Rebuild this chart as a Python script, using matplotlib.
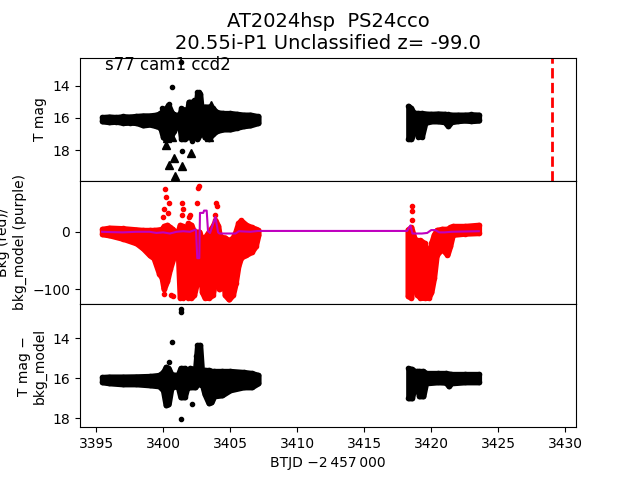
import numpy as np
import matplotlib
matplotlib.use('Agg')
import matplotlib.pyplot as plt

# ---- T mag: dense point cloud, given as upper / lower edge per time node ----
tmag_t1 = [3395.45, 3396.0, 3396.5, 3397.0, 3397.5, 3398.0, 3398.5, 3399.0, 3399.5, 3399.8,
           3400.0, 3400.2, 3400.4, 3400.6, 3400.8, 3401.0, 3401.2, 3401.35, 3401.6, 3401.75,
           3401.9, 3402.2, 3402.4, 3402.55, 3402.75, 3402.9, 3403.1, 3403.4, 3403.7, 3404.0,
           3404.5, 3405.0, 3405.5, 3406.0, 3406.5, 3407.1]
tmag_hi1 = [15.95, 15.92, 15.95, 15.90, 15.92, 15.88, 15.85, 15.85, 15.80, 15.70,
            15.50, 15.40, 15.20, 15.60, 15.80, 15.80, 15.90, 15.40, 15.50, 15.90,
            15.00, 15.00, 15.60, 14.40, 14.50, 15.80, 15.30, 15.30, 15.40, 15.65,
            15.70, 15.70, 15.75, 15.80, 15.80, 15.90]
tmag_lo1 = [16.20, 16.25, 16.22, 16.30, 16.28, 16.30, 16.45, 16.40, 16.50, 16.60,
            17.20, 17.30, 17.10, 17.10, 16.80, 16.40, 16.30, 17.30, 17.30, 16.40,
            17.20, 17.20, 16.40, 17.30, 17.00, 16.50, 17.20, 17.30, 17.00, 16.80,
            16.70, 16.70, 16.60, 16.50, 16.45, 16.30]
tmag_t2 = [3418.3, 3418.5, 3418.7, 3418.85, 3419.05, 3419.3, 3419.55, 3420.0, 3420.5, 3421.0,
           3421.25, 3421.5, 3422.0, 3422.5, 3423.0, 3423.55]
tmag_hi2 = [15.25, 15.40, 15.70, 15.70, 15.70, 15.70, 15.73, 15.75, 15.73, 15.75,
            15.78, 15.80, 15.80, 15.80, 15.78, 15.80]
tmag_lo2 = [17.30, 17.30, 16.90, 16.45, 17.15, 17.15, 16.30, 16.20, 16.20, 16.25,
            16.50, 16.25, 16.18, 16.15, 16.18, 16.15]

# isolated points
out_t = [3401.32, 3400.69, 3400.45, 3402.69, 3402.31, 3401.42, 3402.16, 3399.95]
out_mag = [12.55, 14.10, 15.15, 14.40, 14.90, 18.05, 17.40, 15.40]
lim_t = [3400.45, 3400.82, 3401.44, 3400.87, 3402.07, 3400.20, 3400.32, 3400.70,
         3403.56, 3403.43, 3403.18, 3403.80]
lim_mag = [18.90, 18.50, 18.95, 19.60, 18.20, 17.65, 17.25, 17.15,
           15.20, 17.15, 16.70, 15.55]

# ---- background flux (red) and background model (purple) ----
bkg_t1 = [3395.45, 3396.0, 3397.0, 3398.0, 3398.5, 3399.0, 3399.3, 3399.7, 3399.9, 3400.05,
          3400.3, 3400.5, 3400.7, 3400.9, 3401.1, 3401.25, 3401.45, 3401.65, 3401.85, 3402.1,
          3402.3, 3402.5, 3402.7, 3402.9, 3403.1, 3403.4, 3403.7, 3403.9, 3404.1, 3404.2,
          3404.4, 3404.6, 3404.9, 3405.2, 3405.4, 3405.6, 3405.8, 3406.2, 3406.6, 3406.9,
          3407.1]
bkg_hi1 = [5, 7, 6, 4, 3, 3, 3, 4, 5, 10,
           12, 8, 5, 0, 0, 12, 10, 0, 15, 12,
           0, 0, 0, -15, -10, 0, 10, 20, 10, -5,
           -10, -10, -15, -10, 0, 15, 20, 12, 8, 5,
           3]
bkg_lo1 = [-4, -6, -12, -20, -29, -41, -46, -73, -80, -100,
           -85, -65, -50, -30, -30, -115, -115, -60, -115, -115,
           -110, -90, -40, -105, -115, -115, -110, -80, -40, -100,
           -40, -110, -118, -110, -90, -60, -45, -40, -35, -25,
           -5]
bkg_t2 = [3418.25, 3418.5, 3418.75, 3418.95, 3419.2, 3419.5, 3419.8, 3420.0, 3420.2, 3420.4,
          3420.8, 3421.2, 3421.4, 3421.6, 3422.5, 3423.55]
bkg_hi2 = [4, 8, -12, -15, -15, -20, -50, -20, -5, 3,
           5, 5, 8, 10, 10, 12]
bkg_lo2 = [-112, -115, -50, -110, -115, -115, -115, -105, -80, -40,
           -30, -40, -25, -5, -3, -2]
bkg_out_t = [3400.0, 3400.05, 3400.15, 3400.2, 3400.45, 3400.35, 3400.1, 3400.6, 3400.75,
             3401.4, 3401.42, 3401.45, 3401.9, 3402.0, 3402.65, 3402.62, 3402.55,
             3403.9, 3403.98, 3404.02, 3418.6, 3418.6, 3418.6]
bkg_out = [25, 40, 75, 60, 50, 33, -108, -110, -112,
           30, 50, 40, 25, 30, 80, 76, 50,
           30, 51, 45, 45, 36, 20]

model_t = [3395.45, 3396.0, 3397.0, 3398.0, 3399.0, 3399.5, 3400.0, 3400.5, 3401.0, 3401.5,
           3402.0, 3402.45, 3402.55, 3402.7, 3402.75, 3403.0, 3403.05, 3403.25, 3403.35, 3403.5,
           3403.9, 3404.1, 3404.2, 3405.4, 3405.65, 3406.5, 3407.1, 3418.2, 3418.45, 3418.6,
           3419.3, 3419.7, 3420.0, 3420.3, 3420.6, 3421.0, 3421.5, 3423.55]
model = [0, -0.5, -1, 0, 0, -2, -1, -3, 0, 1,
         0, 4, -46, -46, 33, 33, 37, 37, 1, -2,
         26, -1, -3, -3, 1, 0, 1.5, 1.5, 11, -3,
         -3, -2, 3, 3, -1, -1, 0, 1]

# ---- T mag - bkg_model ----
sub_t1 = [3395.45, 3396.0, 3397.0, 3398.0, 3399.0, 3399.7, 3400.0, 3400.2, 3400.4, 3400.6,
          3400.9, 3401.1, 3401.3, 3401.6, 3401.8, 3402.0, 3402.4, 3402.55, 3402.75, 3402.9,
          3403.1, 3403.4, 3403.6, 3403.8, 3404.4, 3405.0, 3406.0, 3406.6, 3407.1]
sub_hi1 = [15.95, 15.93, 15.93, 15.92, 15.90, 15.85, 15.70, 15.45, 15.50, 15.80,
           15.85, 15.85, 15.50, 15.50, 15.85, 15.50, 15.55, 14.35, 14.35, 15.80,
           15.60, 15.60, 15.65, 15.65, 15.65, 15.65, 15.70, 15.75, 15.85]
sub_lo1 = [16.20, 16.25, 16.30, 16.30, 16.35, 16.40, 16.60, 17.35, 17.30, 16.50,
           16.40, 16.40, 16.95, 16.95, 16.45, 16.45, 16.45, 16.30, 16.30, 16.30,
           16.80, 17.25, 17.20, 16.90, 16.85, 16.60, 16.45, 16.45, 16.25]
sub_t2 = [3418.3, 3418.55, 3418.75, 3418.95, 3419.1, 3419.4, 3419.6, 3420.5, 3421.1, 3421.3,
          3421.5, 3422.5, 3423.55]
sub_hi2 = [15.50, 15.55, 15.65, 15.65, 15.65, 15.65, 15.75, 15.75, 15.75, 15.78,
           15.80, 15.80, 15.80]
sub_lo2 = [17.00, 17.00, 16.45, 16.45, 16.90, 16.90, 16.25, 16.20, 16.22, 16.40,
           16.25, 16.20, 16.20]
sub_out_t = [3401.35, 3401.35, 3400.70, 3400.45, 3400.20, 3401.35, 3402.15, 3402.45]
sub_out = [12.55, 12.70, 14.20, 15.20, 15.45, 18.05, 17.27, 14.90]

peak_t = 3429.0


def cloud(ax, t, hi, lo, color):
    # dense run of points drawn as filled band with point-sized rounded edge
    ax.fill_between(t, lo, hi, facecolor=color, edgecolor=color,
                    linewidth=4, joinstyle='round')
    ax.plot(t, hi, '.', color=color)
    ax.plot(t, lo, '.', color=color)


fig, (ax1, ax2, ax3) = plt.subplots(3, 1, sharex=True, figsize=(6.4, 4.8), dpi=100)
fig.subplots_adjust(hspace=0)

# top: T mag
cloud(ax1, tmag_t1, tmag_hi1, tmag_lo1, 'k')
cloud(ax1, tmag_t2, tmag_hi2, tmag_lo2, 'k')
ax1.plot(out_t, out_mag, 'k.')
ax1.plot(lim_t, lim_mag, 'k^')
ax1.axvline(peak_t, color='r', ls='--', lw=2)
ax1.set_ylim(19.9, 12.25)
ax1.set_yticks([14, 16, 18])
ax1.set_ylabel('T mag')
ax1.text(0.05, 0.9, 's77 cam1 ccd2', transform=ax1.transAxes, fontsize=12)
ax1.set_title('AT2024hsp  PS24cco\n20.55i-P1 Unclassified z= -99.0', fontsize=14)

# middle: background
cloud(ax2, bkg_t1, bkg_hi1, bkg_lo1, 'r')
cloud(ax2, bkg_t2, bkg_hi2, bkg_lo2, 'r')
ax2.plot(bkg_out_t, bkg_out, 'r.')
ax2.plot(model_t, model, 'm-')
ax2.set_ylim(-126, 89)
ax2.set_yticks([-100, 0])
ax2.set_ylabel('Bkg (red)/\nbkg_model (purple)')

# bottom: T mag - bkg_model
cloud(ax3, sub_t1, sub_hi1, sub_lo1, 'k')
cloud(ax3, sub_t2, sub_hi2, sub_lo2, 'k')
ax3.plot(sub_out_t, sub_out, 'k.')
ax3.set_ylim(18.45, 12.3)
ax3.set_yticks([14, 16, 18])
ax3.set_ylabel('T mag \u2212\nbkg_model')

ax3.set_xlim(3393.8, 3430.8)
ax3.set_xticks(np.arange(3395, 3431, 5))
ax3.set_xlabel('BTJD \u22122\u2009457\u2009000')

plt.savefig('out.png', dpi=100)
